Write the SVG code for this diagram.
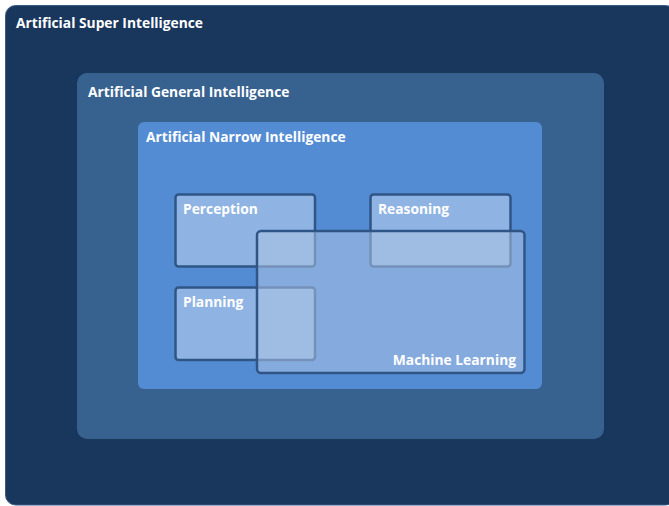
<svg xmlns="http://www.w3.org/2000/svg" width="669" height="506" viewBox="0 0 669 506">
  <style>
    .lbl { font-family: "Open Sans", "Liberation Sans", sans-serif; font-weight: bold; font-size: 13.8px; fill: #ffffff; }
    .sub { fill: #ffffff; fill-opacity: 0.35; stroke: #2f5586; stroke-width: 2.5; }
    .ml { fill: #adc2e4; fill-opacity: 0.55; stroke: #2f5586; stroke-width: 2.5; }
  </style>
  <rect width="669" height="506" fill="#ffffff"/>
  <g id="asi">
    <rect x="5.5" y="5.5" width="670" height="499.5" rx="10" fill="#19365d" stroke="#3a5c88" stroke-width="1"/>
    <text class="lbl" x="16" y="28">Artificial Super Intelligence</text>
  </g>
  <g id="agi">
    <rect x="77" y="73" width="527" height="366" rx="10" fill="#37618f"/>
    <text class="lbl" x="88" y="97">Artificial General Intelligence</text>
  </g>
  <g id="ani">
    <rect x="138" y="122" width="404" height="267" rx="6" fill="#548cd4"/>
    <text class="lbl" x="146" y="142">Artificial Narrow Intelligence</text>
  </g>
  <g id="perception">
    <rect class="sub" x="175.5" y="194.5" width="139.5" height="72" rx="3"/>
    <text class="lbl" x="183" y="214">Perception</text>
  </g>
  <g id="reasoning">
    <rect class="sub" x="370.5" y="194.5" width="140" height="72" rx="3"/>
    <text class="lbl" x="378" y="214">Reasoning</text>
  </g>
  <g id="planning">
    <rect class="sub" x="175.5" y="287.5" width="139.5" height="72.5" rx="3"/>
    <text class="lbl" x="183" y="307">Planning</text>
  </g>
  <g id="machine-learning">
    <rect class="ml" x="257" y="231" width="267.5" height="142" rx="4"/>
    <text class="lbl" x="516" y="365" text-anchor="end">Machine Learning</text>
  </g>
  <g id="connectors"/>
</svg>
